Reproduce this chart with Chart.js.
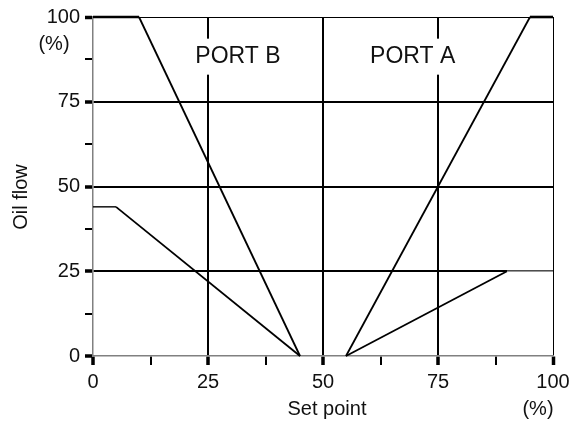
<!DOCTYPE html>
<html>
<head>
<meta charset="utf-8">
<script src="https://cdn.jsdelivr.net/npm/chart.js@4/dist/chart.umd.min.js"></script>
<style>
html,body{margin:0;padding:0;background:#fff;}
#wrap{width:584px;height:423px;position:relative;}
</style>
</head>
<body>
<div id="wrap"><canvas id="c" width="584" height="423"></canvas></div>
<script>
// ---- data ----
const majorTicks = [0, 25, 50, 75, 100];
const portBFullX = [0, 10, 45];
const portBFullY = [100, 100, 0];
const portBLowX = [0, 5, 45];
const portBLowY = [44, 44, 0];
const portAFullX = [55, 95, 100];
const portAFullY = [0, 100, 100];
const portALowX = [55, 90, 100];
const portALowY = [0, 25, 25];
const regionLabels = ['PORT B', 'PORT A'];
const regionLabelX = [31.5, 69.5];
const regionLabelY = [88.3, 88.3];
const yTitle = 'Oil flow';
const xTitle = 'Set point';
const unitLabel = '(%)';

function pts(xs, ys){ return xs.map((x,i)=>({x:x, y:ys[i]})); }
const FONT = '"Liberation Sans", Arial, sans-serif';
const isMajor = v => majorTicks.includes(v);

function gridColor(ctx){
  const v = ctx.tick ? ctx.tick.value : null;
  if (v === 25 || v === 50 || v === 75 || v === 100) return '#000';
  return 'rgba(0,0,0,0)';
}
function gridWidth(ctx){
  const v = ctx.tick ? ctx.tick.value : null;
  if (v === 100) return 1;
  return 2;
}
function tickWidth(ctx){
  const v = ctx.tick ? ctx.tick.value : null;
  return isMajor(v) ? 3.5 : 2;
}

function ds(xs, ys, flatColor){
  return {
    data: pts(xs, ys),
    showLine: true,
    borderColor: '#000',
    borderWidth: 1.8,
    pointRadius: 0,
    clip: 6,
    segment: {
      borderWidth: c => (c.p0.parsed.y === c.p1.parsed.y ? (c.p0.parsed.y === 100 ? 2.6 : 1.4) : 1.8),
      borderColor: c => (c.p0.parsed.y === c.p1.parsed.y && flatColor ? flatColor : '#000')
    }
  };
}

const labelPlugin = {
  id: 'labels',
  beforeDatasetsDraw(chart){
    const c = chart.ctx, xs = chart.scales.x, ys = chart.scales.y;
    c.save();
    c.font = '23px ' + FONT;
    c.textAlign = 'center';
    c.textBaseline = 'middle';
    regionLabels.forEach((t,i)=>{
      const px = xs.getPixelForValue(regionLabelX[i]);
      const py = ys.getPixelForValue(regionLabelY[i]);
      const w = c.measureText(t).width;
      c.fillStyle = '#fff';
      c.fillRect(px - w/2 - 3, py - 18, w + 6, 36);
      c.fillStyle = '#111';
      c.fillText(t, px, py);
    });
    c.restore();
  },
  afterDraw(chart){
    const c = chart.ctx;
    c.save();
    c.fillStyle = '#111';
    c.font = '20px ' + FONT;
    c.textAlign = 'center';
    c.textBaseline = 'middle';
    c.fillText(unitLabel, 54, 44);
    c.fillText(unitLabel, 538, 409);
    c.fillText(xTitle, 327, 409);
    c.translate(21, 197);
    c.rotate(-Math.PI/2);
    c.fillText(yTitle, 0, 0);
    c.restore();
  }
};

new Chart(document.getElementById('c'), {
  type: 'scatter',
  data: {
    datasets: [
      ds(portBFullX, portBFullY),
      ds(portBLowX, portBLowY),
      ds(portAFullX, portAFullY),
      ds(portALowX, portALowY, '#999')
    ]
  },
  options: {
    responsive: false,
    animation: false,
    layout: { padding: { top: 17, right: 31, left: 0, bottom: 0 } },
    plugins: { legend: { display: false }, tooltip: { enabled: false } },
    scales: {
      x: {
        type: 'linear', min: 0, max: 100,
        afterFit: s => { s.height = 67; },
        ticks: {
          stepSize: 12.5, autoSkip: false, maxRotation: 0,
          callback: v => (isMajor(v) ? String(v) : ''),
          font: { size: 20, family: FONT }, color: '#111', padding: 5
        },
        grid: {
          color: gridColor, lineWidth: gridWidth,
          tickColor: '#000', tickWidth: tickWidth, tickLength: 9
        },
        border: { color: '#808080', width: 1.5 }
      },
      y: {
        type: 'linear', min: 0, max: 100,
        afterFit: s => { s.width = 93; },
        ticks: {
          stepSize: 12.5, autoSkip: false,
          callback: v => (isMajor(v) ? String(v) : ''),
          font: { size: 20, family: FONT }, color: '#111', padding: 5
        },
        grid: {
          color: gridColor, lineWidth: gridWidth,
          tickColor: '#000', tickWidth: tickWidth, tickLength: 8
        },
        border: { color: '#808080', width: 1.5 }
      }
    }
  },
  plugins: [labelPlugin]
});
</script>
</body>
</html>
